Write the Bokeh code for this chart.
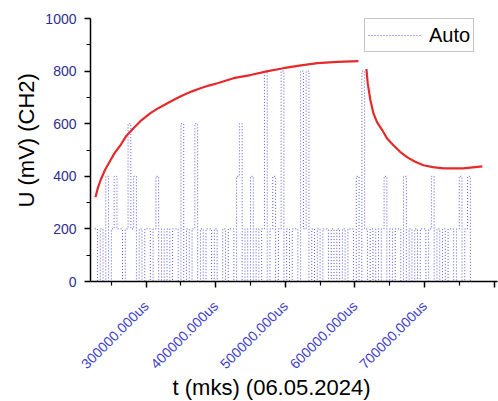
import math
from bokeh.plotting import figure
from bokeh.models import FixedTicker, CustomJSTickFormatter, Legend, LegendItem, Range1d, Title
from bokeh.embed import file_html
from bokeh.resources import INLINE

# ---- data ----
t_auto = [226000, 230000, 234000, 238000, 242000, 246000, 250000, 254000, 258000, 262000,
          266000, 270000, 274000, 278000, 282000, 286000, 290000, 294000, 298000, 302000,
          306000, 310000, 314000, 318000, 322000, 326000, 330000, 334000, 338000, 342000,
          346000, 350000, 354000, 358000, 362000, 366000, 370000, 374000, 378000, 382000,
          386000, 390000, 394000, 398000, 402000, 406000, 410000, 414000, 418000, 422000,
          426000, 430000, 434000, 438000, 442000, 446000, 450000, 454000, 458000, 462000,
          466000, 470000, 474000, 478000, 482000, 486000, 490000, 494000, 498000, 502000,
          506000, 510000, 514000, 518000, 522000, 526000, 530000, 534000, 538000, 542000,
          546000, 550000, 554000, 558000, 562000, 566000, 570000, 574000, 578000, 582000,
          586000, 590000, 594000, 598000, 602000, 606000, 610000, 614000, 618000, 622000,
          626000, 630000, 634000, 638000, 642000, 646000, 650000, 654000, 658000, 662000,
          666000, 670000, 674000, 678000, 682000, 686000, 690000, 694000, 698000, 702000,
          706000, 710000, 714000, 718000, 722000, 726000, 730000, 734000, 738000, 742000,
          746000, 750000, 754000, 758000, 762000, 766000]
u_auto = [200, 0, 200, 0, 400, 0, 200, 400, 200, 200,
          0, 200, 600, 200, 400, 0, 200, 0, 200, 200,
          0, 200, 400, 0, 200, 0, 200, 0, 200, 200,
          0, 600, 0, 200, 0, 200, 600, 0, 200, 0,
          200, 200, 0, 200, 0, 0, 200, 0, 200, 200,
          0, 400, 600, 0, 200, 0, 400, 0, 200, 0,
          200, 800, 0, 200, 400, 0, 200, 800, 0, 200,
          0, 200, 200, 0, 800, 200, 800, 0, 200, 0,
          200, 0, 200, 200, 0, 200, 0, 200, 0, 200,
          0, 200, 200, 0, 400, 0, 800, 200, 0, 200,
          0, 200, 0, 200, 400, 0, 200, 0, 200, 200,
          0, 400, 0, 200, 0, 200, 0, 200, 200, 0,
          200, 400, 0, 200, 0, 200, 0, 200, 200, 0,
          200, 400, 0, 200, 400, 0]

t_rise = [227200, 230500, 234400, 241000, 248700, 255000, 263100, 271000, 281800, 293000,
          306200, 318000, 330600, 342000, 353600, 366000, 378000, 390000, 402500, 425500,
          449900, 475000, 497300, 520000, 546200, 575000, 605100]
u_rise = [320, 355, 385, 425, 461, 490, 518, 552, 583, 613,
          640, 660, 678, 694, 709, 723, 735, 745, 754, 773,
          785, 800, 811, 821, 830, 835, 838]

t_fall = [616600, 618400, 622300, 626600, 632000, 639500, 646000, 655400, 665000, 675500,
          686000, 698500, 712000, 727200, 755900, 783200]
u_fall = [808, 754, 690, 640, 605, 575, 545, 518, 493, 472,
          456, 442, 435, 430, 430, 438]

x_ticks = [300000, 400000, 500000, 600000, 700000, 800000]
x_minor = [250000, 350000, 450000, 550000, 650000, 750000]
y_ticks = [0, 200, 400, 600, 800, 1000]
y_minor = [100, 300, 500, 700, 900]

x_title = "t (mks) (06.05.2024)"
y_title = "U (mV) (CH2)"
legend_label = "Auto"

p = figure(width=498, height=401, output_backend="svg", toolbar_location=None,
           x_range=Range1d(220000, 805000), y_range=Range1d(0, 1000),
           min_border_left=90, min_border_right=1, min_border_top=18, min_border_bottom=120)
p.grid.visible = False
p.outline_line_color = None
p.background_fill_color = "white"
p.border_fill_color = "white"

r_auto = p.step(t_auto, u_auto, mode="after", line_color="#3838d4", line_width=1,
                line_dash="1 2", line_alpha=0.85)
p.line(t_rise, u_rise, line_color="#e42a2a", line_width=2.2)
p.line(t_fall, u_fall, line_color="#e42a2a", line_width=2.2)

# axes
for ax in (p.xaxis[0], p.yaxis[0]):
    ax.axis_line_color = "black"
    ax.axis_line_width = 1.5
    ax.major_tick_line_color = "black"
    ax.major_tick_line_width = 1.5
    ax.minor_tick_line_color = "black"
    ax.minor_tick_line_width = 1.2
    ax.major_tick_out = 6
    ax.major_tick_in = 0
    ax.minor_tick_out = 4
    ax.minor_tick_in = 0
    ax.major_label_text_font = "Liberation Sans"
    ax.major_label_text_font_size = "14px"

p.xaxis.ticker = FixedTicker(ticks=x_ticks, minor_ticks=x_minor)
p.yaxis.ticker = FixedTicker(ticks=y_ticks, minor_ticks=y_minor)
p.xaxis.formatter = CustomJSTickFormatter(code="return tick > 750000 ? '' : tick.toFixed(3) + 'us';")
p.xaxis.major_label_orientation = math.pi / 4
p.xaxis.major_label_text_color = "#3c3cc8"
p.yaxis.major_label_text_color = "#2e2e8e"
p.xaxis.major_label_standoff = 16
p.yaxis.major_label_standoff = 8

# axis titles, placed off-centre as in the reference
p.add_layout(Title(text=x_title, align="left", offset=82, standoff=-13, vertical_align="middle",
                   text_font="Liberation Sans", text_font_size="22px", text_font_style="normal",
                   text_color="black"), "below")
p.add_layout(Title(text=y_title, align="left", offset=74, standoff=6, vertical_align="middle",
                   text_font="Liberation Sans", text_font_size="22px", text_font_style="normal",
                   text_color="black"), "left")

legend = Legend(items=[LegendItem(label=legend_label, renderers=[r_auto])],
                location=(274, 229), margin=0, padding=3, spacing=0,
                glyph_width=53, glyph_height=26, label_height=26, label_standoff=8,
                label_text_font="Liberation Sans", label_text_font_size="20px",
                label_text_color="black", border_line_color="#8a8a8a", border_line_width=1,
                background_fill_color="white", background_fill_alpha=1.0)
p.add_layout(legend)

open("out.html", "w").write(file_html(p, INLINE))
